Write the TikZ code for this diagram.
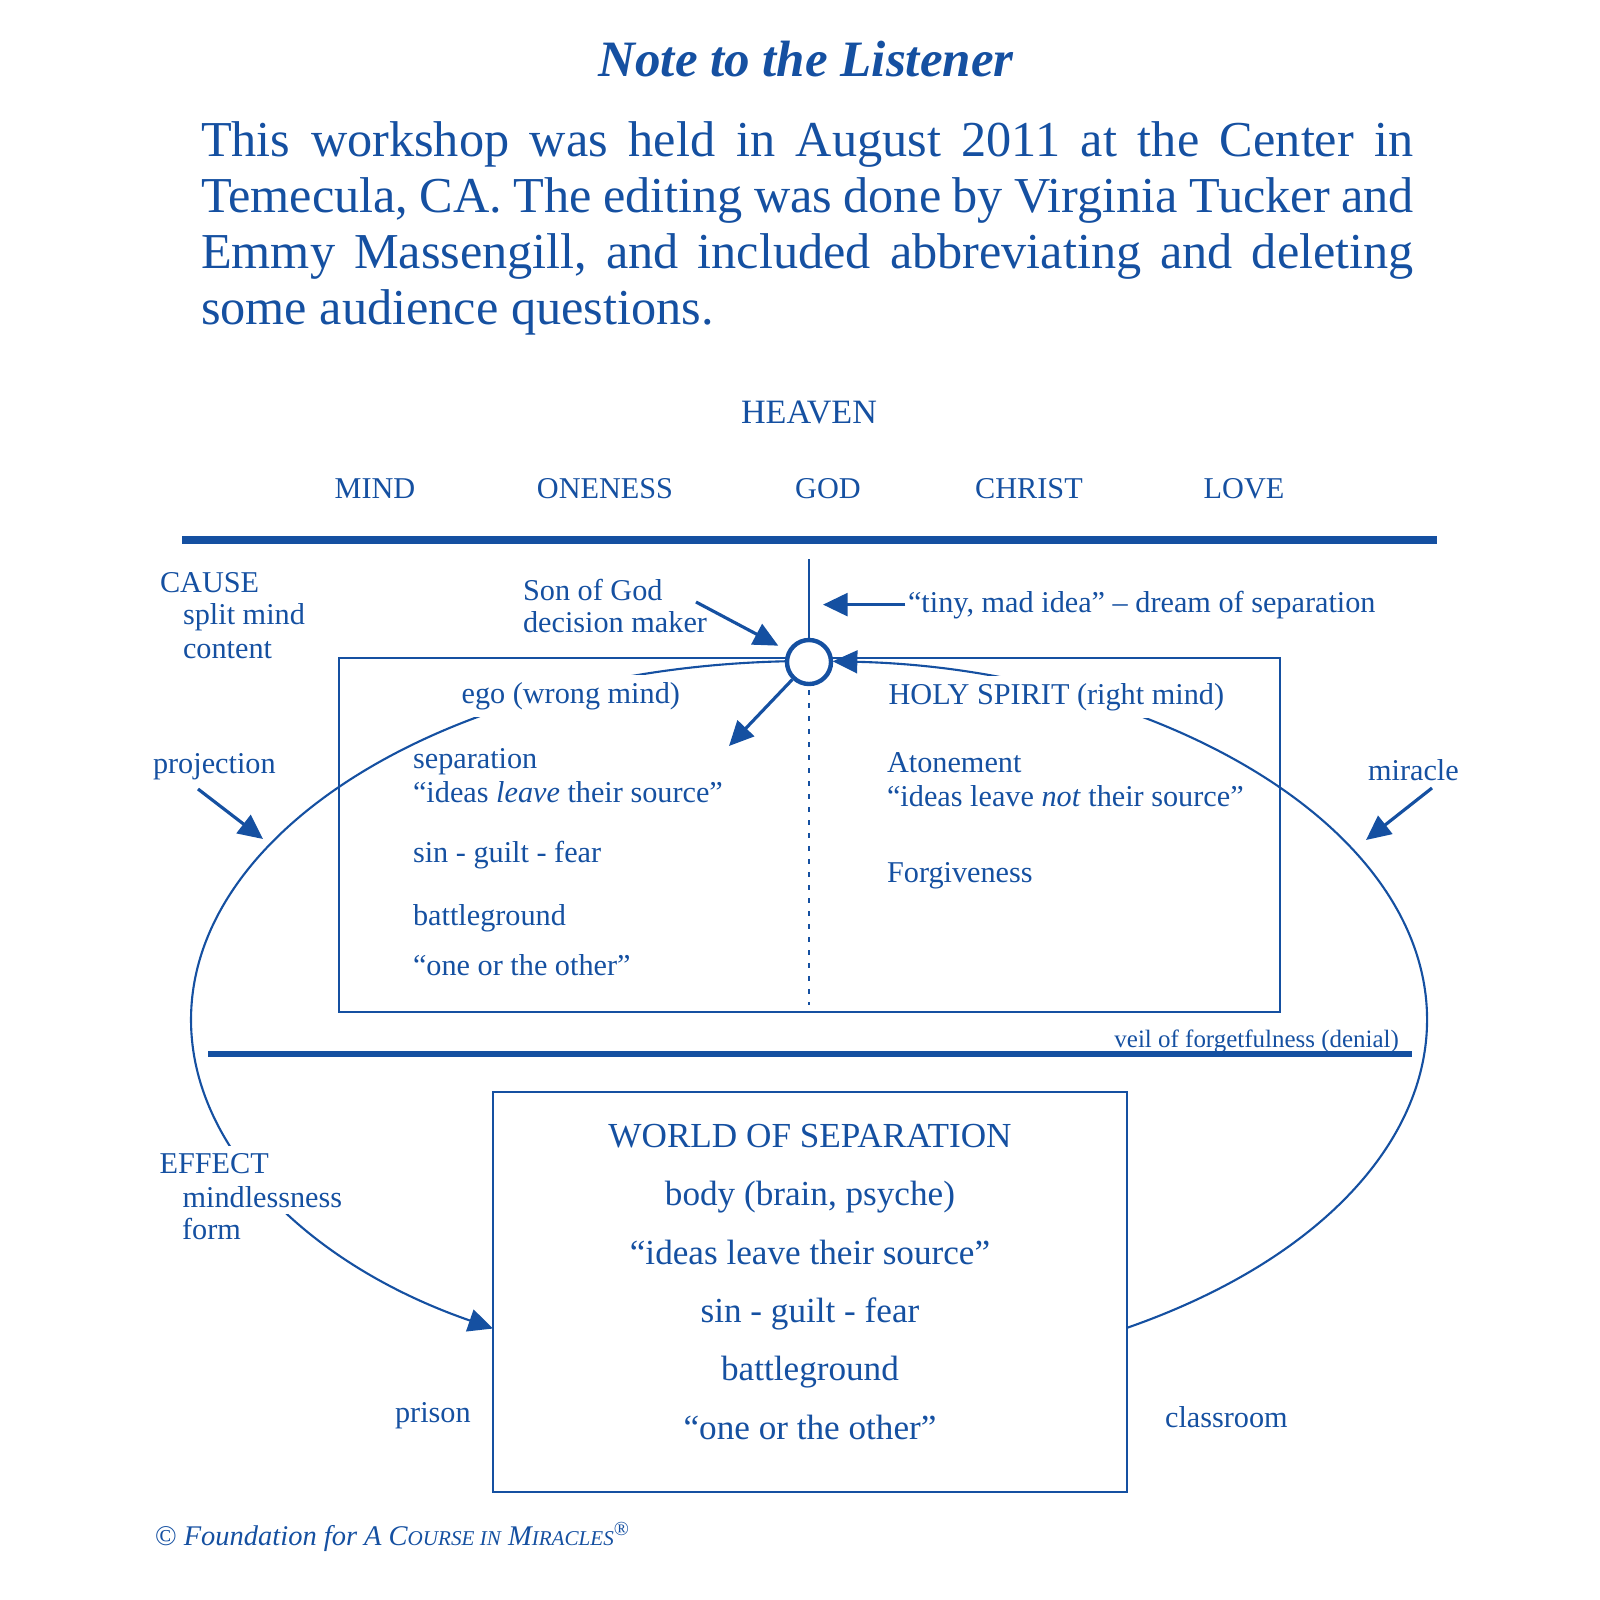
\documentclass[tikz,border=0pt]{standalone}
\usepackage{fontspec}
\setmainfont{Liberation Serif}
\usetikzlibrary{arrows.meta}
\definecolor{cblue}{HTML}{1550A1}
\tikzset{
  every picture/.style={line width=0.6pt},
  lbl/.style={text=cblue, inner sep=0pt, anchor=base west, font=\fontsize{8.6}{9.6}\selectfont},
  onwhite/.style={lbl, fill=white, inner xsep=1pt, inner ysep=2pt},
  caption/.style={text=cblue, inner sep=0pt, anchor=base, font=\fontsize{8.6}{9.6}\selectfont},
  rule/.style={draw=cblue, line width=2.1pt},
  frame/.style={draw=cblue, line width=0.7pt},
  orbit/.style={draw=cblue, line width=0.6pt},
  arrow/.style={-{Triangle[length=7pt, width=6.5pt]}, draw=cblue, line width=0.9pt},
}

\begin{document}
\begin{tikzpicture}[x=0.01cm, y=-0.01cm]
  \useasboundingbox (0,0) rectangle (1600,1600);
  % note on top
  \node[caption, font=\fontsize{14.5}{16}\selectfont\bfseries\itshape] (title) at (806,77) {Note to the Listener};
  \node[text=cblue, inner sep=0pt, anchor=north west, text width=12.12cm, align=justify, font=\fontsize{14.3}{15.85}\selectfont] (intro) at (200,121) {\frenchspacing This workshop was held in August 2011 at the Center in\linebreak Temecula, CA. The editing was done by Virginia Tucker and\linebreak Emmy Massengill, and included abbreviating and deleting\linebreak some audience questions.};
  % heaven
  \node[caption, font=\fontsize{9.7}{11}\selectfont] (heaven) at (809,423) {HEAVEN};
  \foreach \x/\w in {375/MIND, 605/ONENESS, 828/GOD, 1029/CHRIST, 1244/LOVE}
    \node[caption] (\w) at (\x,498) {\w};
  \draw[rule] (182,540) -- (1437,540);
  \draw[rule, line width=1.5pt] (208,1054) -- (1412,1054);
  % split mind and world
  \draw[frame] (339,658) rectangle (1280,1012);
  \node[frame, fill=white, minimum width=6.34cm, minimum height=4cm, inner sep=0pt] (world) at (810,1292) {};
  \draw[orbit, line width=0.4pt, dash pattern=on 1.4pt off 2.3pt] (809,690) -- (809,1005);
  % projection and miracle loop
  \draw[orbit, arrow, line width=0.6pt] ([shift={(809,1020)}]267.8:618 and 359) arc[start angle=267.8, end angle=120.75, x radius=618, y radius=359];
  \draw[orbit, arrow, line width=0.6pt] ([shift={(809,1020)}]59.03:618 and 359) arc[start angle=59.03, end angle=-87.8, x radius=618, y radius=359];
  \node[circle, draw=cblue, line width=1.25pt, fill=white, minimum size=0.44cm, inner sep=0pt] (dm) at (809,662) {};
  \coordinate (rise) at (809,559);
  \draw[orbit] (rise) -- (dm);
  % labels
  \node[lbl] (cause) at (159,592) {CAUSE};
  \node[lbl] (split) at (182,624) {split mind};
  \node[lbl] (content) at (182,658) {content};
  \node[lbl] (son) at (522,600) {Son of God};
  \node[lbl] (maker) at (522,632) {decision maker};
  \node[lbl] (tiny) at (907,612) {“tiny, mad idea” – dream of separation};
  \node[onwhite] (ego) at (457,703) {ego (wrong mind)};
  \node[onwhite] (holy) at (884,704) {HOLY SPIRIT (right mind)};
  \node[lbl] (separation) at (412,768) {separation};
  \node[lbl] (leave) at (412,802) {“ideas \textit{leave} their source”};
  \node[lbl] (sin) at (412,862) {sin - guilt - fear};
  \node[lbl] (battle) at (412,925) {battleground};
  \node[lbl] (other) at (412,975) {“one or the other”};
  \node[lbl] (atonement) at (886,772) {Atonement};
  \node[lbl] (leavenot) at (886,806) {“ideas leave \textit{not} their source”};
  \node[lbl] (forgive) at (886,882) {Forgiveness};
  \node[lbl] (projection) at (152,773) {projection};
  \node[lbl] (miracle) at (1367,780) {miracle};
  \node[lbl, anchor=base east, font=\fontsize{7.1}{8}\selectfont] (veil) at (1400,1047) {veil of forgetfulness (denial)};
  \node[onwhite] (effect) at (155,1173) {EFFECT};
  \node[onwhite] (mindless) at (178,1207) {mindlessness};
  \node[lbl] (form) at (181,1239) {form};
  \node[text=cblue, inner sep=0pt, anchor=north, align=center, font=\fontsize{10}{16.6}\selectfont] (worldtext) at (810,1123) {WORLD OF SEPARATION\\body (brain, psyche)\\“ideas leave their source”\\sin - guilt - fear\\battleground\\“one or the other”};
  \node[lbl] (prison) at (394,1422) {prison};
  \node[lbl] (classroom) at (1164,1427) {classroom};
  \node[lbl, font=\fontsize{8.1}{9}\selectfont\itshape] (credit) at (154,1545) {{\upshape©} Foundation for A C{\fontsize{6}{7}\selectfont OURSE IN} M{\fontsize{6}{7}\selectfont IRACLES}\textsuperscript{\upshape®}};
  % arrows
  \coordinate (sonTail) at (696,602);
  \coordinate (sepTip) at (729,746);
  \coordinate (tinyTip) at (823,604);
  \coordinate (projTail) at (198,789);
  \coordinate (projTip) at (263,839);
  \coordinate (miracleTail) at (1432,788);
  \coordinate (miracleTip) at (1366,840);
  \draw[arrow, shorten >=3pt] (sonTail) -- (dm);
  \draw[arrow] (dm) -- (sepTip);
  \draw[arrow] ([xshift=-0.5pt]tiny.west) -- (tiny.west -| tinyTip);
  \draw[arrow] (projTail) -- (projTip);
  \draw[arrow] (miracleTail) -- (miracleTip);
\end{tikzpicture}
\end{document}
